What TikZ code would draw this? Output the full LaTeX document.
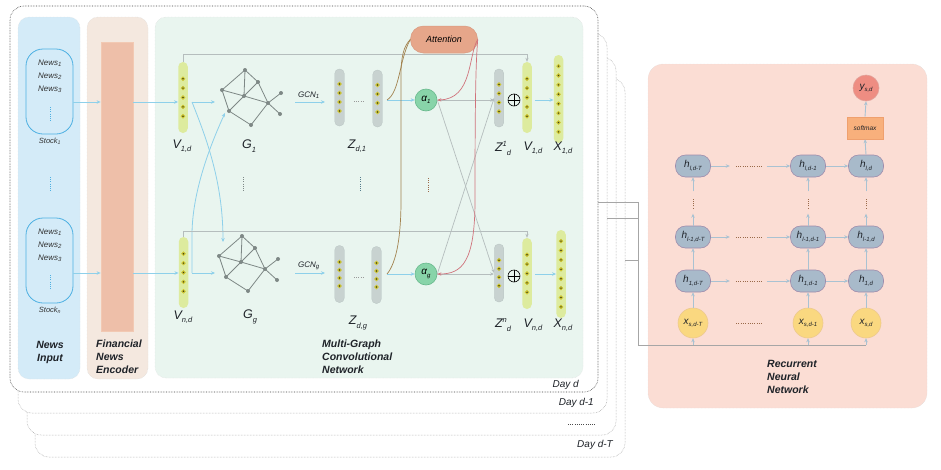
\documentclass[tikz,border=0pt]{standalone}
\usepackage{fontspec}
\setmainfont{Liberation Sans}
\usetikzlibrary{calc,arrows.meta}

\definecolor{newsbg}{HTML}{D4EBF8}
\definecolor{encbg}{HTML}{F4E8DF}
\definecolor{encbar}{HTML}{EEBFA9}
\definecolor{encbard}{HTML}{F2C9B3}
\definecolor{gcnbg}{HTML}{E9F5EF}
\definecolor{rnnbg}{HTML}{FBDDD4}
\definecolor{capsb}{HTML}{4DB0E2}
\definecolor{arrb}{HTML}{8ED0EA}
\definecolor{lgray}{HTML}{B5BDBD}
\definecolor{vbar}{HTML}{DDEB9E}
\definecolor{zbar}{HTML}{C8D2D0}
\definecolor{zbard}{HTML}{B8C4C2}
\definecolor{dotin}{HTML}{3E3E18}
\definecolor{dotout}{HTML}{CFC62E}
\definecolor{attc}{HTML}{E6A68A}
\definecolor{attd}{HTML}{D99A80}
\definecolor{alc}{HTML}{88D4A9}
\definecolor{ald}{HTML}{68B88C}
\definecolor{brownc}{HTML}{A2824E}
\definecolor{redc}{HTML}{D0737C}
\definecolor{hc}{HTML}{A8BACA}
\definecolor{hd}{HTML}{9E8CAC}
\definecolor{xc}{HTML}{FAD880}
\definecolor{xd}{HTML}{EDC98E}
\definecolor{smc}{HTML}{F8B07C}
\definecolor{smd}{HTML}{EFA06E}
\definecolor{yc}{HTML}{EE8D82}
\definecolor{yd}{HTML}{E2A29A}
\definecolor{rarr}{HTML}{A9C2D2}
\definecolor{txt}{HTML}{1E2228}
\definecolor{graphc}{HTML}{7E8886}
\definecolor{rdotc}{HTML}{9A6A4A}

\newcommand{\mylab}[2]{{\fontsize{12.5}{12.5}\selectfont\itshape #1}{\fontsize{7.5}{7.5}\selectfont\itshape\raisebox{-3.5pt}{#2}}}
\newcommand{\mylabsup}[3]{{\fontsize{12.5}{12.5}\selectfont\itshape #1}{\fontsize{7.5}{7.5}\selectfont\itshape\raisebox{5pt}{#2}\raisebox{-4pt}{#3}}}
\newcommand{\smlab}[2]{{\fontsize{10}{10}\selectfont\itshape #1}{\fontsize{6}{6}\selectfont\itshape\raisebox{-2.5pt}{#2}}}
\newcommand{\bardots}[3]{\foreach \ii in {1,...,#2}{\filldraw[fill=dotin, draw=dotout, line width=0.9pt] ($(#1.center)+(0,{(\ii-(#2+1)/2)*#3})$) circle (1.7pt);}}
\newcommand{\mygraph}[3]{%
  \begin{scope}[shift={(#2,#3)}]
  \foreach \n/\px/\py in {a/245/70,b/258/82,c/222/90,d/244/96,e/281/93,f/268/103,g/229/111,h/280/114,i/251/125}
    \node[gdot] (#1\n) at (\px,\py) {};
  \foreach \u/\v in {a/c,a/b,a/d,b/d,d/g,c/d,d/f,b/f,f/e,f/h,f/i,i/g,g/c}
    \draw[gedge] (#1\u.center) -- (#1\v.center);
  \end{scope}}

\tikzset{
 framea/.style={rectangle, rounded corners=14pt, fill=white, draw=black!75, densely dotted, line width=0.6pt, inner sep=0pt},
 frameb/.style={framea, draw=black!40, line width=0.5pt},
 panel/.style={rectangle, rounded corners=11pt, draw=black!15, densely dotted, line width=0.4pt, inner sep=0pt},
 caps/.style={rectangle, rounded corners=17pt, draw=capsb, line width=0.8pt, minimum width=47pt, minimum height=85pt, inner sep=0pt},
 ntext/.style={font=\fontsize{8}{8}\selectfont\itshape, text=black!80, inner sep=0pt},
 vb/.style={rectangle, rounded corners=4.7pt, fill=vbar, minimum width=9.5pt, inner sep=0pt},
 zb/.style={rectangle, rounded corners=4.5pt, fill=zbar, draw=zbard, line width=0.3pt, minimum width=9.5pt, minimum height=57pt, inner sep=0pt},
 gdot/.style={circle, fill=graphc, inner sep=0pt, minimum size=4pt},
 gedge/.style={draw=graphc, line width=0.8pt},
 barrow/.style={draw=arrb, line width=0.8pt, -{Stealth[length=4pt,width=3.5pt]}},
 gline/.style={draw=lgray, line width=0.7pt},
 garrow/.style={gline, -{Stealth[length=4pt,width=3.2pt]}},
 brownl/.style={draw=brownc, line width=0.7pt},
 redl/.style={draw=redc, line width=0.7pt, -{Stealth[length=4pt,width=3.2pt]}},
 alnode/.style={circle, fill=alc, draw=ald, line width=0.6pt, minimum size=22pt, inner sep=0pt},
 attn/.style={rectangle, rounded corners=13pt, fill=attc, draw=attd, line width=0.5pt, minimum width=67pt, minimum height=27pt, inner sep=0pt, font=\fontsize{9}{9}\selectfont\itshape},
 lab/.style={inner sep=0pt, text=txt},
 plab/.style={inner sep=0pt, text=txt, font=\fontsize{10.5}{13}\selectfont\bfseries\itshape},
 daylab/.style={inner sep=0pt, text=txt, font=\fontsize{10}{10}\selectfont\itshape},
 hnode/.style={rectangle, rounded corners=10pt, fill=hc, draw=hd, line width=0.6pt, minimum width=35pt, minimum height=22pt, inner sep=0pt, text=txt},
 xnode/.style={circle, fill=xc, draw=xd, line width=0.6pt, minimum size=30pt, inner sep=0pt, text=txt},
 rarrow/.style={draw=rarr, line width=0.9pt, -{Stealth[length=4pt,width=3.5pt]}},
 rdots/.style={draw=rdotc, line width=0.8pt, dash pattern=on 1pt off 1.3pt},
 vdots/.style={line width=0.8pt, dash pattern=on 1pt off 1.2pt},
 feed/.style={draw=black!35, line width=0.7pt},
 oplusn/.style={circle, draw=black, line width=0.6pt, minimum size=12pt, inner sep=0pt},
}

\begin{document}
\begin{tikzpicture}[x=1pt,y=-1pt]
\useasboundingbox (0,0) rectangle (941,469);

% ---------- day frames ----------
\node[frameb, minimum width=590pt, minimum height=379pt] (f4) at (330,267.5) {};
\node[frameb, minimum width=589pt, minimum height=378pt] (f3) at (321.5,246) {};
\node[frameb, minimum width=589pt, minimum height=380pt] (f2) at (312.5,223) {};
\node[framea, minimum width=588pt, minimum height=386pt] (f1) at (304,199) {};

\node[daylab, anchor=east] (dl1) at (579,385) {Day d};
\node[daylab, anchor=east] (dl2) at (594,403) {Day d-1};
\draw[vdots, draw=black!70] (568,424) -- (595,424);
\node[daylab, anchor=east] (dl4) at (613,445) {Day d-T};

% ---------- panels ----------
\node[panel, fill=newsbg, minimum width=62pt, minimum height=362pt] (newsp) at (49,198) {};
\node[panel, fill=encbg, minimum width=61pt, minimum height=362pt] (encp) at (117.5,198) {};
\node[rectangle, fill=encbar, draw=encbard, line width=0.8pt, minimum width=32pt, minimum height=289pt, inner sep=0pt] (encbar) at (117,186.5) {};
\node[panel, fill=gcnbg, minimum width=428pt, minimum height=361pt] (gcnp) at (369,197.5) {};
\node[panel, fill=rnnbg, rounded corners=15pt, minimum width=279pt, minimum height=344pt] (rnnp) at (787.5,236) {};

\node[plab, align=center] (lnews) at (50,352.5) {News\\Input};
\node[plab, align=left, anchor=west] (lenc) at (96,356.5) {Financial\\News\\Encoder};
\node[plab, align=left, anchor=west] (lgcn) at (322,357) {Multi-Graph\\Convolutional\\Network};
\node[plab, align=left, anchor=west] (lrnn) at (767,377) {Recurrent\\Neural\\Network};

% ---------- news input ----------
\node[caps] (cap1) at (49.5,91.5) {};
\node[caps] (capn) at (49.5,260.5) {};
\foreach \yy/\kk in {63/1,76/2,89/3} \node[ntext] at (50,\yy) {News\textsubscript{\kk}};
\foreach \yy/\kk in {232/1,245/2,258/3} \node[ntext] at (50,\yy) {News\textsubscript{\kk}};
\node[ntext, font=\fontsize{7.5}{7.5}\selectfont\itshape] (s1) at (50,141) {Stock\textsubscript{1}};
\node[ntext, font=\fontsize{7.5}{7.5}\selectfont\itshape] (sn) at (50,310) {Stock\textsubscript{n}};
\draw[vdots, draw=capsb] (50,107) -- (50,121);
\draw[vdots, draw=capsb] (50,275) -- (50,289);
\draw[vdots, draw=capsb] (50,177) -- (50,191);

\coordinate (r1) at (0,102);
\coordinate (rn) at (0,273);
\draw[barrow] (cap1.east|-r1) -- (encbar.west|-r1);
\draw[barrow] (capn.east|-rn) -- (encbar.west|-rn);

% ---------- MGCN ----------
\node[vb, minimum height=71pt] (v1) at (183,97.5) {};
\node[vb, minimum height=71pt] (vn) at (183.5,272.5) {};
\bardots{v1}{5}{9.4}
\bardots{vn}{5}{9.4}
\draw[barrow] (encbar.east|-r1) -- (v1.west|-r1);
\draw[barrow] (encbar.east|-rn) -- (vn.west|-rn);

\mygraph{ga}{0}{0}
\mygraph{gb}{-3}{166}

\coordinate (v1o) at (192,102);
\coordinate (vno) at (192,273);
\coordinate (g1in) at (215,102);
\coordinate (gnin) at (215,273);
\draw[barrow] (v1o) -- (g1in);
\draw[barrow] (vno) -- (gnin);
\draw[barrow] (v1o) .. controls (205,135) and (223,180) .. (223,242);
\draw[barrow] (vno) -- (192,235) .. controls (192,195) and (208,150) .. (225,113);

% GCN arrows
\coordinate (gc1s) at (295,102); \coordinate (gc1e) at (325,102);
\coordinate (gcns) at (295,273); \coordinate (gcne) at (325,273);
\draw[barrow] (gc1s) -- (gc1e);
\draw[barrow] (gcns) -- (gcne);
\node[lab, font=\fontsize{8}{8}\selectfont\itshape] (gcn1) at (309,95) {GCN\textsubscript{1}};
\node[lab, font=\fontsize{8}{8}\selectfont\itshape] (gcng) at (309,266) {GCN\textsubscript{g}};

% Z bars
\node[zb] (z1a) at (339.5,97.5) {};
\node[zb] (z1b) at (377.5,98.5) {};
\node[zb] (zga) at (339.5,274) {};
\node[zb] (zgb) at (376.5,275) {};
\bardots{z1a}{4}{9}
\bardots{z1b}{4}{9}
\bardots{zga}{4}{8}
\bardots{zgb}{4}{8}
\draw[vdots, draw=black!40] (354,101) -- (364,101);
\draw[vdots, draw=black!40] (354,277) -- (364,277);

% vertical separators
\draw[vdots, draw=graphc] (243,177) -- (243,191);
\draw[vdots, draw=arrb!60!black] (360,177) -- (360,191);
\draw[vdots, draw=rdotc] (428,178) -- (428,192);

% attention and alphas
\node[attn] (att) at (444,39.5) {Attention};
\node[alnode] (a1) at (426,100) {\smlab{α}{1}};
\node[alnode] (ag) at (426,274) {\smlab{α}{g}};

\coordinate (z1o) at (387,100);
\coordinate (zgo) at (387,274);

% second stage bars
\node[zb, minimum height=58pt] (z1) at (499,98) {};
\node[zb, minimum height=58pt] (zn) at (499,273) {};
\bardots{z1}{4}{9}
\bardots{zn}{4}{8.5}
\node[vb, minimum height=71pt] (v1p) at (527,97.5) {};
\node[vb, minimum height=71pt] (vnp) at (527,273.5) {};
\bardots{v1p}{5}{9.4}
\bardots{vnp}{5}{9.4}
\node[vb, minimum height=88pt] (x1) at (558.5,99) {};
\node[vb, minimum height=88pt] (xn) at (561,274) {};
\bardots{x1}{8}{9.4}
\bardots{xn}{8}{9.4}

% skip lines
\draw[garrow] (v1.north) -- ++(0,-7) -| (v1p.north);
\draw[garrow] (vn.north) -- ++(0,-5) -| (vnp.north);

% gray alpha to z lines
\draw[garrow] (a1.east) -- (z1.west|-a1);
\draw[garrow] (ag.east) -- (zn.west|-ag);
\draw[garrow] (a1.east) -- (zn.west);
\draw[garrow] (ag.east) -- (z1.west);

% z to alpha
\draw[barrow] (z1o) -- (a1.west);
\draw[barrow] (zgo) -- (ag.west);

% brown curves to attention
\draw[brownl] (z1o) .. controls (400,92) and (399,60) .. (att.west);
\draw[brownl] (zgo) .. controls (397,262) and (401,235) .. (401,200) -- (401,75) .. controls (401,56) and (404,46) .. (att.west);

% red curves from attention
\draw[redl] (att.east) .. controls (468,55) and (473,99) .. (a1.east);
\draw[redl] (att.east) .. controls (476,60) and (475,90) .. (475,200) .. controls (475,262) and (462,274) .. (ag.east);

% oplus
\node[oplusn] (op1) at (514,100) {};
\node[oplusn] (opn) at (514,276) {};
\draw[line width=0.6pt] (op1.north) -- (op1.south) (op1.west) -- (op1.east);
\draw[line width=0.6pt] (opn.north) -- (opn.south) (opn.west) -- (opn.east);

% V to X
\draw[barrow] ($(v1p.east|-a1)+(3,0)$) -- (x1.west|-a1);
\draw[barrow] ($(vnp.east|-ag)+(3,0)$) -- (xn.west|-ag);

% labels
\node[lab] (lv1) at (182,146) {\mylab{V}{1,d}};
\node[lab] (lg1) at (249,146) {\mylab{G}{1}};
\node[lab] (lz1) at (357,146) {\mylab{Z}{d,1}};
\node[lab] (lz1b) at (503,148) {\mylabsup{Z}{1}{d}};
\node[lab] (lv1b) at (533,148) {\mylab{V}{1,d}};
\node[lab] (lx1) at (563,148) {\mylab{X}{1,d}};
\node[lab] (lvn) at (183,317) {\mylab{V}{n,d}};
\node[lab] (lgg) at (250,317) {\mylab{G}{g}};
\node[lab] (lzg) at (358,323) {\mylab{Z}{d,g}};
\node[lab] (lznb) at (503,325) {\mylabsup{Z}{n}{d}};
\node[lab] (lvnb) at (533,325) {\mylab{V}{n,d}};
\node[lab] (lxn) at (563,325) {\mylab{X}{n,d}};

% ---------- RNN ----------
\node[hnode] (hTl) at (693,166) {\smlab{h}{l,d-T}};
\node[hnode] (h1l) at (808,166) {\smlab{h}{l,d-1}};
\node[hnode] (hdl) at (866,166) {\smlab{h}{l,d}};
\node[hnode] (hTm) at (693,237) {\smlab{h}{l-1,d-T}};
\node[hnode] (h1m) at (808,237) {\smlab{h}{l-1,d-1}};
\node[hnode] (hdm) at (866,237) {\smlab{h}{l-1,d}};
\node[hnode] (hTo) at (693,281) {\smlab{h}{1,d-T}};
\node[hnode] (h1o) at (808,281) {\smlab{h}{1,d-1}};
\node[hnode] (hdo) at (866,281) {\smlab{h}{1,d}};
\node[xnode] (xT) at (693,323) {\smlab{x}{s,d-T}};
\node[xnode] (x1r) at (808,323) {\smlab{x}{s,d-1}};
\node[xnode] (xdr) at (866,323) {\smlab{x}{s,d}};
\node[rectangle, fill=smc, draw=smd, line width=0.6pt, minimum width=36pt, minimum height=22pt, inner sep=0pt, font=\fontsize{6.5}{6.5}\selectfont\itshape, text=txt] (sm) at (865,128) {softmax};
\node[circle, fill=yc, draw=yd, line width=0.6pt, minimum size=26pt, inner sep=0pt, text=txt] (yo) at (866,88) {\smlab{y}{s,d}};

\foreach \r in {l,m,o}{
  \draw[rarrow] (hT\r.east) -- ++(19,0) coordinate (da\r);
  \draw[rdots] ($(da\r)+(6,0)$) -- ++(26,0) coordinate (db\r);
  \draw[rarrow] ($(db\r)+(5,0)$) -- (h1\r.west);
  \draw[rarrow] (h1\r.east) -- (hd\r.west);
}
\draw[rdots] (736,323) -- (762,323);

\foreach \c in {T,1,d}{
  \draw[rarrow] (h\c o.north) -- (h\c m.south);
  \draw[rarrow] (h\c m.north) -- ++(0,-12) coordinate (dv\c);
  \draw[rdots] ($(dv\c)+(0,-5)$) -- ++(0,-11);
  \draw[rarrow] ($(h\c l.south)+(0,14)$) -- (h\c l.south);
}
\draw[rarrow] (xT.north) -- (hTo.south);
\draw[rarrow] (x1r.north) -- (h1o.south);
\draw[rarrow] (xdr.north) -- (hdo.south);
\draw[rarrow] (hdl.north) -- (sm.south);
\draw[rarrow] (sm.north) -- (yo.south);

% feed from day frames
\coordinate (fy1) at (0,202);
\coordinate (fy2) at (0,218);
\coordinate (fy3) at (0,260);
\coordinate (fb) at (638,345);
\draw[feed] (f1.east|-fy1) -- (fb|-fy1) -- (fb) -- (xdr|-fb);
\draw[feed] (f2.east|-fy2) -- (fb|-fy2);
\draw[feed] (f4.east|-fy3) -- (fb|-fy3);
\draw[rarrow] (xT|-fb) -- (xT.south);
\draw[rarrow] (x1r|-fb) -- (x1r.south);
\draw[rarrow] (xdr|-fb) -- (xdr.south);
\end{tikzpicture}
\end{document}
